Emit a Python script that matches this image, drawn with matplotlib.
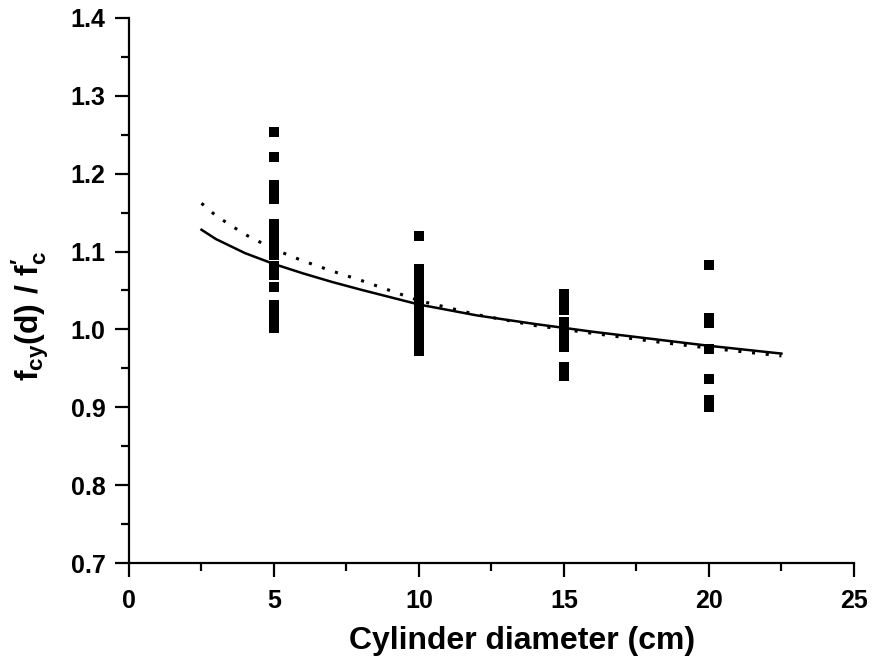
import matplotlib
matplotlib.use("Agg")
import matplotlib.pyplot as plt
from matplotlib.ticker import MultipleLocator

plt.rcParams['font.family'] = ['Liberation Sans', 'DejaVu Sans']
plt.rcParams['font.weight'] = 'bold'
plt.rcParams['mathtext.fontset'] = 'custom'
plt.rcParams['mathtext.rm'] = 'Liberation Sans:bold'
plt.rcParams['mathtext.it'] = 'Liberation Sans:bold'
plt.rcParams['mathtext.bf'] = 'Liberation Sans:bold'

# measured strength ratios per cylinder diameter
d5 = [1.253, 1.222, 1.185, 1.175, 1.168, 1.135, 1.125, 1.118, 1.105, 1.095,
      1.082, 1.07, 1.055, 1.032, 1.025, 1.012, 1.002]
d10 = [1.12, 1.077, 1.068, 1.058, 1.048, 1.038, 1.028, 1.018, 1.01, 1.0, 0.99,
       0.98, 0.972]
d15 = [1.045, 1.035, 1.025, 1.01, 1.0, 0.99, 0.978, 0.952, 0.94]
d20 = [1.083, 1.015, 1.008, 0.975, 0.937, 0.91, 0.9]

# fitted curves
fit_x = [2.5, 3, 4, 5, 6, 7, 8, 10, 12, 14, 16, 18, 20, 22.5]
solid_y = [1.128, 1.116, 1.098, 1.084, 1.072, 1.061, 1.051, 1.032, 1.018,
           1.007, 0.997, 0.988, 0.979, 0.969]
dotted_y = [1.162, 1.146, 1.122, 1.103, 1.088, 1.075, 1.063, 1.037, 1.019,
            1.005, 0.995, 0.985, 0.976, 0.966]

fig = plt.figure(figsize=(8.74, 6.64), dpi=100)
ax = fig.add_axes([0.1476, 0.152, 0.8294, 0.821])

for d, vals in [(5, d5), (10, d10), (15, d15), (20, d20)]:
    ax.plot([d] * len(vals), vals, 's', color='black', markersize=7.8,
            markeredgewidth=0, linestyle='none')

ax.plot(fit_x, solid_y, '-', color='black', linewidth=1.8)
ax.plot(fit_x, dotted_y, color='black', linewidth=2.2,
        linestyle=(0, (1, 3.5)))

ax.set_xlim(0, 25)
ax.set_ylim(0.7, 1.4)
ax.xaxis.set_major_locator(MultipleLocator(5))
ax.xaxis.set_minor_locator(MultipleLocator(2.5))
ax.yaxis.set_major_locator(MultipleLocator(0.1))
ax.yaxis.set_minor_locator(MultipleLocator(0.05))
ax.yaxis.set_major_formatter(matplotlib.ticker.FormatStrFormatter('%.1f'))

ax.spines['top'].set_visible(False)
ax.spines['right'].set_visible(False)
for s in ['left', 'bottom']:
    ax.spines[s].set_linewidth(1.6)
ax.tick_params(which='major', direction='out', length=10, width=1.6,
               labelsize=18, pad=7)
ax.tick_params(which='major', axis='x', pad=9)
ax.tick_params(which='minor', direction='out', length=6, width=1.6)

ax.set_xlabel('Cylinder diameter (cm)', fontsize=23, fontweight='bold')
ax.set_ylabel(r"$\mathrm{f_{cy}(d)\ /\ f^{\prime}_{c}}$", fontsize=23)
ax.xaxis.set_label_coords(0.542, -0.115)
ax.yaxis.set_label_coords(-0.107, 0.453)

fig.savefig('out.png', dpi=100)
